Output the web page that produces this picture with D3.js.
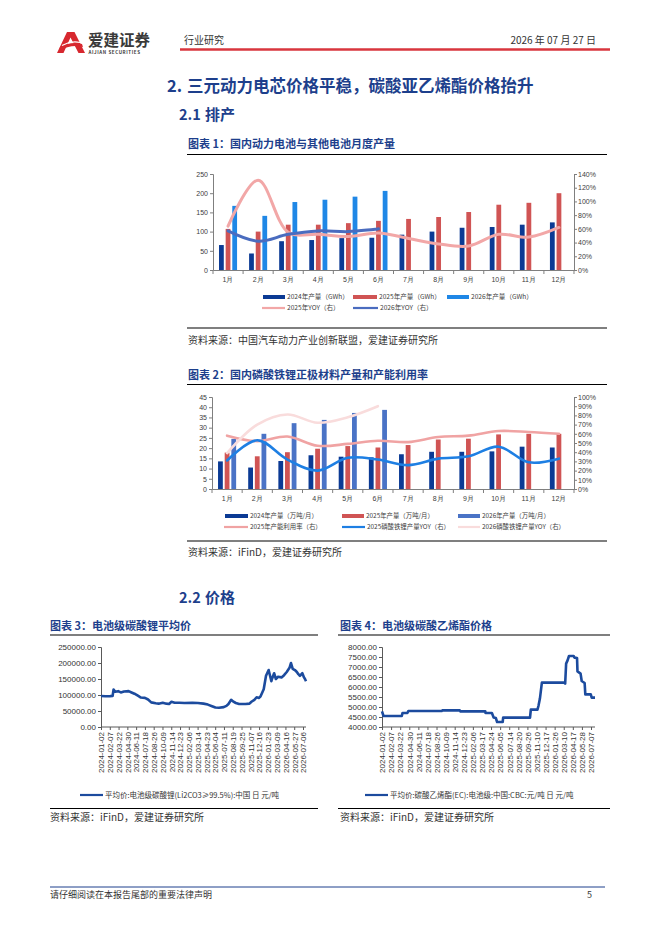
<!DOCTYPE html>
<html>
<head>
<meta charset="utf-8">
<script src="https://cdn.jsdelivr.net/npm/d3@7"></script>
<style>
body { margin: 0; background: #fff; }
svg { display: block; font-family: "Noto Sans CJK SC", "Noto Sans", sans-serif; }
</style>
</head>
<body>
<script>
// ---- chart 1 data: 国内动力电池月度产量 ----
var months = ["1月","2月","3月","4月","5月","6月","7月","8月","9月","10月","11月","12月"];
var bat2024 = [65, 43, 75, 78, 83, 84, 92, 100, 110, 112, 118, 124];
var bat2025 = [107, 100, 118, 118, 122, 128, 133, 138, 151, 170, 175, 200];
var bat2026 = [167, 141, 177, 183, 191, 206];
var batYoy2025 = [64, 131, 55, 52, 49, 54, 46, 38, 35, 52, 48, 62];
var batYoy2026 = [57, 42, 52, 57, 56, 60];

// ---- chart 2 data: 磷酸铁锂正极材料 ----
var lfp2024 = [13.5, 10.5, 13.7, 16.5, 15.8, 15.5, 17, 18.2, 18.2, 18.4, 20.7, 20.3];
var lfp2025 = [17.8, 16, 18, 19.7, 21, 20.3, 21.5, 24.2, 24.6, 26.7, 27, 27];
var lfp2026 = [24.5, 27, 32.2, 33.8, 37.2, 38.7];
var lfpUtil2025 = [58, 52, 57, 47, 49, 52.5, 51, 56.5, 58, 63, 62, 60];
var lfpYoy2025 = [31, 53, 32, 20, 34, 32, 26, 33, 35.5, 46, 29, 33];
var lfpYoy2026 = [39, 70, 81, 72, 78, 90];

// ---- chart 3 data: 电池级碳酸锂平均价 ----
var lcTicks = ["2024-01-02","2024-02-07","2024-03-22","2024-04-30","2024-06-11","2024-07-18","2024-08-26","2024-10-09","2024-11-14","2024-12-23","2025-02-06","2025-03-14","2025-04-23","2025-06-04","2025-07-11","2025-08-19","2025-09-25","2025-11-07","2025-12-16","2026-01-23","2026-03-09","2026-04-16","2026-05-27","2026-07-06"];
var lcDates = ["2024-01-02","2024-01-20","2024-02-08","2024-02-21","2024-02-26","2024-03-05","2024-03-20","2024-04-01","2024-04-15","2024-05-06","2024-05-20","2024-06-03","2024-06-20","2024-07-01","2024-07-18","2024-08-01","2024-08-15","2024-09-05","2024-09-20","2024-10-10","2024-10-25","2024-11-05","2024-11-15","2024-11-29","2024-12-20","2025-01-15","2025-02-20","2025-03-15","2025-04-10","2025-04-30","2025-05-20","2025-06-05","2025-06-20","2025-07-10","2025-07-22","2025-07-31","2025-08-12","2025-08-20","2025-09-01","2025-09-15","2025-10-15","2025-11-03","2025-11-12","2025-11-25","2025-12-05","2025-12-15","2025-12-22","2026-01-05","2026-01-15","2026-01-27","2026-02-10","2026-02-13","2026-02-24","2026-03-05","2026-03-15","2026-03-30","2026-04-10","2026-04-22","2026-05-05","2026-05-12","2026-05-20","2026-05-30","2026-06-08","2026-06-15","2026-06-22","2026-07-03","2026-07-12","2026-07-18","2026-07-24"];
var lcPrice = [97000,96000,96500,97000,117000,110000,112000,108000,111000,112000,108000,104000,97000,92000,91000,86000,77000,74000,73000,76000,73000,72000,79000,76000,76000,75000,76000,75000,73000,70000,65000,61000,60000,62000,66000,72000,85000,80000,75000,72000,72000,73000,79000,85000,93000,91000,95000,118000,160000,178000,143000,150000,168000,150000,157000,155000,162000,172000,185000,200000,182000,178000,172000,165000,160000,168000,155000,150000,143000];

// ---- chart 4 data: 电池级碳酸乙烯酯价格 ----
var ecTicks = ["2024-01-02","2024-02-07","2024-03-22","2024-04-30","2024-06-11","2024-07-18","2024-08-26","2024-10-09","2024-11-14","2024-12-23","2025-02-06","2025-03-17","2025-04-24","2025-06-05","2025-07-14","2025-08-20","2025-09-26","2025-11-10","2025-12-17","2026-01-26","2026-03-10","2026-04-17","2026-05-28","2026-07-07"];
var ecDates = ["2024-01-02","2024-01-08","2024-03-29","2024-04-01","2024-04-22","2024-04-26","2024-09-20","2024-09-23","2024-12-06","2024-12-09","2025-03-31","2025-04-01","2025-04-28","2025-05-06","2025-05-16","2025-05-22","2025-06-16","2025-06-18","2025-10-09","2025-10-13","2025-11-14","2025-11-18","2025-11-24","2025-12-02","2026-03-12","2026-03-16","2026-03-20","2026-03-26","2026-04-01","2026-04-21","2026-04-24","2026-05-06","2026-05-08","2026-05-22","2026-05-27","2026-06-09","2026-06-12","2026-07-06","2026-07-10","2026-07-24"];
var ecPrice = [4780,4550,4550,4700,4700,4800,4800,4830,4830,4780,4780,4700,4700,4480,4450,4250,4250,4470,4470,4870,4870,5050,5420,6220,6220,6170,7170,7330,7550,7550,7470,7450,6780,6670,6300,6200,5630,5630,5470,5470];

var BLUE = "#1d3f8c", TXT = "#333333", AX = "#7f7f7f";
var svg = d3.select("body").append("svg").attr("width", 662).attr("height", 936);
svg.append("rect").attr("width", 662).attr("height", 936).attr("fill", "#fff");

function text(x, y, s, size, opt) {
  opt = opt || {};
  return svg.append("text").attr("x", x).attr("y", y).text(s)
    .attr("font-size", size).attr("fill", opt.fill || TXT)
    .attr("font-weight", opt.bold ? "bold" : null)
    .attr("text-anchor", opt.anchor || "start");
}
function hline(x1, x2, y, color, w) {
  svg.append("line").attr("x1", x1).attr("x2", x2).attr("y1", y).attr("y2", y)
    .attr("stroke", color).attr("stroke-width", w);
}

// header
svg.append("path").attr("d", "M57,53 L67,32 L74.5,32 L85,53 L78.5,53 L70.5,37.5 L63.5,53 Z").attr("fill", "#d7282f");
svg.append("path").attr("d", "M60,47 Q71,41 82,44 L83,47 Q71,44 59,51 Z").attr("fill", "#d7282f");
svg.append("path").attr("d", "M62,45.5 Q71,40.5 80,42.5").attr("stroke", "#fff").attr("stroke-width", 1.2).attr("fill", "none");
text(88, 46, "爱建证券", 15.5, {bold: true, fill: "#3a3a3a"});
text(88.5, 53.5, "AIJIAN SECURITIES", 4.5, {bold: true, fill: "#3a3a3a"}).attr("letter-spacing", 0.6);
text(184, 44, "行业研究", 10);
text(596, 44, "2026 年 07 月 27 日", 10, {anchor: "end"});
hline(180, 610, 49.5, "#d9363e", 2.5);

text(167, 92, "2.", 16.5, {bold: true, fill: BLUE});
text(187, 92, "三元动力电芯价格平稳，碳酸亚乙烯酯价格抬升", 16.5, {bold: true, fill: BLUE});
text(179, 120, "2.1", 14.5, {bold: true, fill: BLUE});
text(205, 120, "排产", 15, {bold: true, fill: BLUE});

// bar + line combo chart
function combo(c) {
  var g = svg.append("g");
  var x = d3.scaleBand().domain(months).range([c.left, c.right]).paddingInner(0.4).paddingOuter(0.2);
  var x1 = d3.scaleBand().domain(d3.range(c.bars.length)).range([0, x.bandwidth()]).paddingInner(0.28);
  var y = d3.scaleLinear().domain([0, c.yMax]).range([c.bottom, c.top]);
  var yR = d3.scaleLinear().domain([0, c.rMax]).range([c.bottom, c.top]);

  var ga = g.append("g").attr("transform", "translate(" + c.left + ",0)")
    .call(d3.axisLeft(y).tickValues(d3.range(0, c.yMax + 0.1, c.yStep)).tickSize(3).tickPadding(2));
  var gr = g.append("g").attr("transform", "translate(" + c.right + ",0)")
    .call(d3.axisRight(yR).tickValues(d3.range(0, c.rMax + 0.1, c.rStep)).tickFormat(function (d) { return d + "%"; }).tickSize(3).tickPadding(1));
  var gb = g.append("g").attr("transform", "translate(0," + c.bottom + ")")
    .call(d3.axisBottom(x).tickSize(0).tickPadding(7));
  gb.selectAll(".tick").append("line")
    .attr("x1", x.step() / 2).attr("x2", x.step() / 2).attr("y1", 0).attr("y2", 4).attr("stroke", AX);
  gb.append("line").attr("x1", c.left).attr("x2", c.left).attr("y1", 0).attr("y2", 4).attr("stroke", AX);
  [ga, gr, gb].forEach(function (a) {
    a.selectAll("path, line").attr("stroke", AX);
    a.selectAll("text").attr("font-size", 7).attr("fill", "#404040").attr("font-family", null);
  });

  c.bars.forEach(function (b, i) {
    g.selectAll(null).data(b.data).enter().append("rect")
      .attr("x", function (d, j) { return x(months[j]) + x1(i); })
      .attr("y", function (d) { return y(d); })
      .attr("width", x1.bandwidth())
      .attr("height", function (d) { return c.bottom - y(d); })
      .attr("fill", b.color);
  });
  c.lines.forEach(function (l) {
    var line = d3.line()
      .x(function (d, j) { return x(months[j]) + x.bandwidth() / 2; })
      .y(function (d) { return yR(d); })
      .curve(d3.curveCatmullRom.alpha(0.5));
    g.append("path").attr("d", line(l.data)).attr("fill", "none")
      .attr("stroke", l.color).attr("stroke-width", l.width).attr("stroke-linecap", "round");
  });
  c.legend.forEach(function (it) {
    if (it.bar) {
      g.append("rect").attr("x", it.x).attr("y", it.y - 2).attr("width", it.w).attr("height", 4).attr("fill", it.color);
    } else {
      g.append("line").attr("x1", it.x).attr("x2", it.x + it.w).attr("y1", it.y).attr("y2", it.y)
        .attr("stroke", it.color).attr("stroke-width", 2.2);
    }
    g.append("text").attr("x", it.x + it.w + 2).attr("y", it.y + 2.4).text(it.label)
      .attr("font-size", c.legSize).attr("fill", "#404040");
  });
}

// chart 1
text(188, 148, "图表 1：国内动力电池与其他电池月度产量", 11, {bold: true, fill: BLUE});
hline(187, 607, 154.5, "#000", 1.2);
var C1_DARK = "#0b3a94", C1_RED = "#d05454", C1_LB = "#1f87e6";
combo({
  left: 213, right: 574, top: 174, bottom: 270, legSize: 6.6,
  yMax: 250, yStep: 50, rMax: 140, rStep: 20,
  bars: [{data: bat2024, color: C1_DARK}, {data: bat2025, color: C1_RED}, {data: bat2026, color: C1_LB}],
  lines: [{data: batYoy2025, color: "#f2a7a7", width: 3}, {data: batYoy2026, color: "#4a6cbf", width: 3}],
  legend: [
    {bar: true, x: 263, y: 297, w: 22, color: C1_DARK, label: "2024年产量（GWh）"},
    {bar: true, x: 353, y: 297, w: 24, color: C1_RED, label: "2025年产量（GWh）"},
    {bar: true, x: 447, y: 297, w: 22, color: C1_LB, label: "2026年产量（GWh）"},
    {x: 262, y: 308, w: 23, color: "#f2a7a7", label: "2025年YOY（右）"},
    {x: 353, y: 308, w: 25, color: "#4a6cbf", label: "2026年YOY（右）"}
  ]
});
hline(187, 607, 328, "#000", 1.2);
text(188, 344, "资料来源：中国汽车动力产业创新联盟，爱建证券研究所", 10);

// chart 2
text(188, 379, "图表 2：国内磷酸铁锂正极材料产量和产能利用率", 11, {bold: true, fill: BLUE});
hline(187, 607, 384.5, "#000", 1.2);
var C2_MB = "#4a73c6";
combo({
  left: 212, right: 574, top: 397, bottom: 489, legSize: 6.4,
  yMax: 45, yStep: 5, rMax: 100, rStep: 10,
  bars: [{data: lfp2024, color: C1_DARK}, {data: lfp2025, color: C1_RED}, {data: lfp2026, color: C2_MB}],
  lines: [{data: lfpUtil2025, color: "#f0a3a3", width: 2.6}, {data: lfpYoy2025, color: "#1e7fe3", width: 2.6}, {data: lfpYoy2026, color: "#f9dcdc", width: 2.6}],
  legend: [
    {bar: true, x: 225, y: 516, w: 23, color: C1_DARK, label: "2024年产量（万吨/月）"},
    {bar: true, x: 342, y: 516, w: 22, color: C1_RED, label: "2025年产量（万吨/月）"},
    {bar: true, x: 458, y: 516, w: 22, color: C2_MB, label: "2026年产量（万吨/月）"},
    {x: 224, y: 527, w: 24, color: "#f0a3a3", label: "2025年产能利用率（右）"},
    {x: 342, y: 527, w: 23, color: "#1e7fe3", label: "2025磷酸铁锂产量YOY（右）"},
    {x: 458, y: 527, w: 22, color: "#f9dcdc", label: "2026磷酸铁锂产量YOY（右）"}
  ]
});
hline(187, 607, 541, "#000", 1.2);
text(188, 556, "资料来源：iFinD，爱建证券研究所", 10);

text(179, 603, "2.2", 14.5, {bold: true, fill: BLUE});
text(205, 603, "价格", 15, {bold: true, fill: BLUE});

// daily price line charts
var parse = d3.timeParse("%Y-%m-%d"), fmt = d3.timeFormat("%Y-%m-%d");
function priceChart(c) {
  var g = svg.append("g");
  var tickDates = c.ticks.map(parse);
  var step = (c.lastTickX - c.left) / (tickDates.length - 1);
  var x = d3.scaleTime()
    .domain(tickDates.concat([parse("2026-07-24")]))
    .range(tickDates.map(function (d, i) { return c.left + i * step; }).concat([c.right]));
  var y = d3.scaleLinear().domain(c.yDomain).range([727, 647]);

  var ga = g.append("g").attr("transform", "translate(" + c.left + ",0)")
    .call(d3.axisLeft(y).tickValues(d3.range(c.yDomain[0], c.yDomain[1] + 1, c.yStep)).tickFormat(d3.format(".2f")).tickSize(3).tickPadding(2));
  var gb = g.append("g").attr("transform", "translate(0,727)")
    .call(d3.axisBottom(x).tickValues(tickDates).tickFormat(fmt).tickSize(3));
  gb.select(".domain").attr("d", "M" + c.left + ",0H" + c.right);
  gb.selectAll("text").attr("transform", "rotate(-90)").attr("x", -5).attr("y", 0)
    .attr("dy", "0.35em").attr("text-anchor", "end");
  [ga, gb].forEach(function (a) {
    a.selectAll("path, line").attr("stroke", "#595959");
    a.selectAll("text").attr("font-size", 8).attr("fill", "#333").attr("font-family", null);
  });

  var line = d3.line().x(function (d, i) { return x(parse(c.dates[i])); }).y(function (d) { return y(d); });
  g.append("path").attr("d", line(c.values)).attr("fill", "none")
    .attr("stroke", "#1c4b9e").attr("stroke-width", 2.6).attr("stroke-linejoin", "round");

  g.append("line").attr("x1", c.legX).attr("x2", c.legX + 23).attr("y1", 795).attr("y2", 795)
    .attr("stroke", "#1c4b9e").attr("stroke-width", 2.2);
  g.append("text").attr("x", c.legX + 25).attr("y", 798).text(c.label).attr("font-size", 7.5).attr("fill", "#333");
}

text(50, 630, "图表 3：电池级碳酸锂平均价", 11, {bold: true, fill: BLUE});
hline(50, 318, 635, "#000", 1.2);
priceChart({
  left: 101, lastTickX: 303, right: 306, yDomain: [0, 250000], yStep: 50000,
  ticks: lcTicks, dates: lcDates, values: lcPrice, legX: 80,
  label: "平均价:电池级碳酸锂(Li2CO3≥99.5%):中国 日 元/吨"
});
hline(50, 318, 808.5, "#000", 1.2);
text(50, 821, "资料来源：iFinD，爱建证券研究所", 10);

text(340, 630, "图表 4：电池级碳酸乙烯酯价格", 11, {bold: true, fill: BLUE});
hline(338, 610, 635, "#000", 1.2);
priceChart({
  left: 382, lastTickX: 591, right: 595, yDomain: [4000, 8000], yStep: 500,
  ticks: ecTicks, dates: ecDates, values: ecPrice, legX: 365,
  label: "平均价:碳酸乙烯酯(EC):电池级:中国:CBC:元/吨 日 元/吨"
});
hline(338, 610, 808.5, "#000", 1.2);
text(340, 821, "资料来源：iFinD，爱建证券研究所", 10);

// footer
hline(50, 605, 887, "#1d3f8c", 1);
text(50, 898, "请仔细阅读在本报告尾部的重要法律声明", 9);
text(592, 898, "5", 9, {anchor: "end"});
</script>
</body>
</html>
